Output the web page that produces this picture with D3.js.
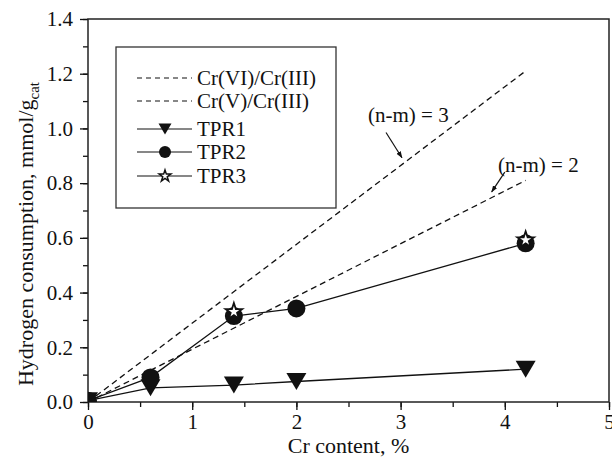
<!DOCTYPE html>
<html>
<head>
<meta charset="utf-8">
<script src="https://cdn.jsdelivr.net/npm/d3@7"></script>
<style>
  html, body { margin: 0; padding: 0; background: #fff; }
  svg { display: block; font-family: "Liberation Serif", "Times New Roman", serif; }
</style>
</head>
<body>
<svg id="chart" width="612" height="461"></svg>
<script>
// ---------- data ----------
const tpr1X = [0, 0.6, 1.4, 2.0, 4.2];
const tpr1Y = [0.005, 0.052, 0.062, 0.075, 0.12];
const tpr2X = [0, 0.6, 1.4, 2.0, 4.2];
const tpr2Y = [0.005, 0.09, 0.314, 0.342, 0.58];
const tpr3X = [1.4, 4.2];
const tpr3Y = [0.33, 0.592];
const theoX = [0, 4.2];
const cr6Y = [0, 1.21];   // (n-m) = 3
const cr5Y = [0, 0.81];   // (n-m) = 2
const xTicks = [0, 1, 2, 3, 4, 5];
const yTicks = [0, 0.2, 0.4, 0.6, 0.8, 1.0, 1.2, 1.4];
const legendLabels = ["Cr(VI)/Cr(III)", "Cr(V)/Cr(III)", "TPR1", "TPR2", "TPR3"];
const annotations = [
  { text: "(n-m) = 3", tx: 2.687, ty: 1.049, ax1: 2.86, ay1: 0.985, ax2: 3.013, ay2: 0.893 },
  { text: "(n-m) = 2", tx: 3.935, ty: 0.866, ax1: 4.0, ay1: 0.84, ax2: 3.874, ay2: 0.768 }
];

// ---------- layout ----------
const svg = d3.select("#chart");
const L = 88, R = 609, T = 19, B = 402;
const x = d3.scaleLinear().domain([0, 5]).range([L, R]);
const y = d3.scaleLinear().domain([0, 1.4]).range([B, T]);
const ink = "#111";
const fs = 21;

svg.append("defs").append("clipPath").attr("id", "plotclip")
  .append("rect").attr("x", L).attr("y", T).attr("width", R - L).attr("height", B - T);
const defs = svg.select("defs");
defs.append("marker").attr("id", "arrow").attr("viewBox", "0 0 10 10")
  .attr("refX", 9).attr("refY", 5).attr("markerWidth", 7).attr("markerHeight", 7)
  .attr("orient", "auto-start-reverse").attr("markerUnits", "userSpaceOnUse")
  .append("path").attr("d", "M0,1.5 L10,5 L0,8.5 Z").attr("fill", ink);

// ---------- axes ----------
const yMinor = d3.range(0, 1.41, 0.1);
const xMinor = d3.range(0, 5.01, 0.5);

svg.append("g").attr("transform", `translate(${L},0)`)
  .call(d3.axisLeft(y).tickValues(yMinor).tickSize(5).tickFormat(""))
  .call(g => g.select(".domain").remove())
  .call(g => g.selectAll("line").attr("stroke", ink).attr("stroke-width", 1.3));
svg.append("g").attr("transform", `translate(0,${B})`)
  .call(d3.axisBottom(x).tickValues(xMinor).tickSize(5).tickFormat(""))
  .call(g => g.select(".domain").remove())
  .call(g => g.selectAll("line").attr("stroke", ink).attr("stroke-width", 1.3));

svg.append("g").attr("transform", `translate(${L},0)`)
  .call(d3.axisLeft(y).tickValues(yTicks).tickSize(8).tickPadding(7).tickFormat(d3.format(".1f")))
  .call(g => g.select(".domain").remove())
  .call(g => g.selectAll("line").attr("stroke", ink).attr("stroke-width", 1.3))
  .call(g => g.selectAll("text").attr("fill", ink).attr("font-size", fs).attr("font-family", "Liberation Serif"));
svg.append("g").attr("transform", `translate(0,${B})`)
  .call(d3.axisBottom(x).tickValues(xTicks).tickSize(8).tickPadding(4).tickFormat(d3.format("d")))
  .call(g => g.select(".domain").remove())
  .call(g => g.selectAll("line").attr("stroke", ink).attr("stroke-width", 1.3))
  .call(g => g.selectAll("text").attr("fill", ink).attr("font-size", fs).attr("font-family", "Liberation Serif"));

// frame
svg.append("rect").attr("x", L).attr("y", T).attr("width", R - L).attr("height", B - T)
  .attr("fill", "none").attr("stroke", "#222").attr("stroke-width", 1.5);

// axis titles
svg.append("text").attr("x", x(2.5)).attr("y", 453).attr("text-anchor", "middle")
  .attr("font-size", fs + 1).attr("fill", ink).text("Cr content, %");
const yt = svg.append("text").attr("transform", `translate(33,234) rotate(-90)`)
  .attr("text-anchor", "middle").attr("font-size", 22).attr("fill", ink);
yt.append("tspan").text("Hydrogen consumption, mmol/g");
yt.append("tspan").attr("font-size", 15).attr("dy", 6).text("cat");

// ---------- data marks ----------
const plot = svg.append("g").attr("clip-path", "url(#plotclip)");
const line = d3.line().x(d => x(d[0])).y(d => y(d[1]));
const zip = (a, b) => a.map((v, i) => [v, b[i]]);

plot.append("path").datum(zip(theoX, cr6Y)).attr("d", line)
  .attr("fill", "none").attr("stroke", ink).attr("stroke-width", 1.3).attr("stroke-dasharray", "6,4");
plot.append("path").datum(zip(theoX, cr5Y)).attr("d", line)
  .attr("fill", "none").attr("stroke", ink).attr("stroke-width", 1.3).attr("stroke-dasharray", "6,4");

plot.append("path").datum(zip(tpr1X, tpr1Y)).attr("d", line)
  .attr("fill", "none").attr("stroke", ink).attr("stroke-width", 1.3);
plot.append("path").datum(zip(tpr2X, tpr2Y)).attr("d", line)
  .attr("fill", "none").attr("stroke", ink).attr("stroke-width", 1.3);

const triPath = (w, h) => `M${-w / 2},${-h / 2}L${w / 2},${-h / 2}L0,${h / 2}Z`;
const circleSym = (r) => d3.symbol(d3.symbolCircle, Math.PI * r * r)();
const starSym = (s) => d3.symbol(d3.symbolStar, s)();

plot.selectAll(".t1").data(zip(tpr1X, tpr1Y)).join("path")
  .attr("transform", d => `translate(${x(d[0])},${y(d[1])})`)
  .attr("d", triPath(20, 17)).attr("fill", ink);
plot.selectAll(".t2").data(zip(tpr2X, tpr2Y)).join("path")
  .attr("transform", d => `translate(${x(d[0])},${y(d[1])})`)
  .attr("d", circleSym(9)).attr("fill", ink);
plot.selectAll(".t3").data(zip(tpr3X, tpr3Y)).join("path")
  .attr("transform", d => `translate(${x(d[0])},${y(d[1])})`)
  .attr("d", starSym(85)).attr("fill", "#fff").attr("stroke", ink).attr("stroke-width", 1.8)
  .attr("stroke-linejoin", "miter");

// annotations
annotations.forEach(a => {
  svg.append("text").attr("x", x(a.tx)).attr("y", y(a.ty)).attr("dy", "0.35em")
    .attr("font-size", fs).attr("fill", ink).text(a.text);
  svg.append("line").attr("x1", x(a.ax1)).attr("y1", y(a.ay1)).attr("x2", x(a.ax2)).attr("y2", y(a.ay2))
    .attr("stroke", ink).attr("stroke-width", 1.2).attr("marker-end", "url(#arrow)");
});

// ---------- legend ----------
const lg = svg.append("g");
lg.append("rect").attr("x", 116).attr("y", 47).attr("width", 220).attr("height", 161)
  .attr("fill", "#fff").attr("stroke", "#333").attr("stroke-width", 1.3);
const rowY = [78, 101, 129, 152, 176];
legendLabels.forEach((lab, i) => {
  const g = lg.append("g").attr("transform", `translate(0,${rowY[i]})`);
  g.append("line").attr("x1", 137).attr("x2", 192).attr("y1", 0).attr("y2", 0)
    .attr("stroke", ink).attr("stroke-width", 1.2)
    .attr("stroke-dasharray", i < 2 ? "5,4" : null);
  if (i === 2) g.append("path").attr("transform", "translate(165,0)").attr("d", triPath(13, 11)).attr("fill", ink);
  if (i === 3) g.append("path").attr("transform", "translate(165,0)").attr("d", circleSym(6)).attr("fill", ink);
  if (i === 4) g.append("path").attr("transform", "translate(165,0)").attr("d", starSym(42))
    .attr("fill", "#fff").attr("stroke", ink).attr("stroke-width", 1.5);
  g.append("text").attr("x", 197).attr("dy", "0.35em").attr("font-size", fs).attr("fill", ink).text(lab);
});
</script>
</body>
</html>
